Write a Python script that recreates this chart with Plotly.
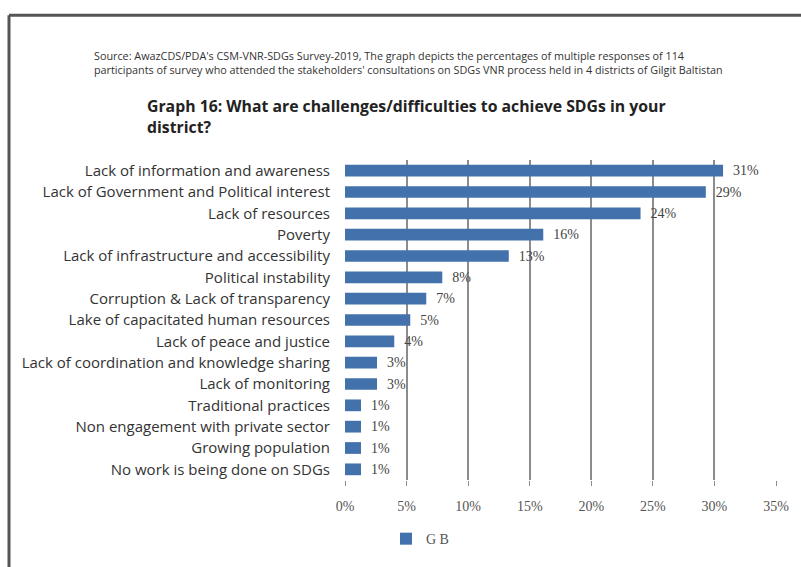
import plotly.graph_objects as go

categories = [
    "Lack of information and awareness",
    "Lack of Government and Political interest",
    "Lack of resources",
    "Poverty",
    "Lack of infrastructure and accessibility",
    "Political instability",
    "Corruption & Lack of transparency",
    "Lake of capacitated human resources",
    "Lack of peace and justice",
    "Lack of coordination and knowledge sharing",
    "Lack of monitoring",
    "Traditional practices",
    "Non engagement with private sector",
    "Growing population",
    "No work is being done on SDGs",
]
values = [30.7, 29.3, 24.0, 16.1, 13.3, 7.9, 6.6, 5.3, 4.0, 2.6, 2.6, 1.3, 1.3, 1.3, 1.3]
value_labels = ["31%", "29%", "24%", "16%", "13%", "8%", "7%", "5%", "4%", "3%", "3%", "1%", "1%", "1%", "1%"]
tick_vals = [0, 5, 10, 15, 20, 25, 30, 35]
tick_text = ["0%", "5%", "10%", "15%", "20%", "25%", "30%", "35%"]
series_name = "G B"

W, H = 801, 567
L, R, T, B = 345, 25, 160, 82
pw, ph = W - L - R, H - T - B


def px_x(x):
    return (x - L) / pw


def px_y(y):
    return (H - B - y) / ph


fig = go.Figure()
fig.add_trace(go.Bar(
    x=values, y=categories, orientation="h", name=series_name,
    marker=dict(color="#4271ab", line=dict(width=0)),
    width=0.55,
    text=value_labels, textposition="outside",
    texttemplate="\u00a0\u00a0%{text}",
    constraintext="none",
    textfont=dict(family="Liberation Serif", size=14, color="#444444"),
    cliponaxis=False,
))

fig.update_layout(
    width=W, height=H,
    margin=dict(l=L, r=R, t=T, b=B),
    paper_bgcolor="white", plot_bgcolor="white",
    title=dict(
        text="Graph 16: What are challenges/difficulties to achieve SDGs in your<br>district?",
        x=147 / W, xref="container", xanchor="left",
        y=1 - 112 / H, yref="container", yanchor="top",
        font=dict(family="Open Sans", size=15.8, color="#222222", weight="bold"),
    ),
    xaxis=dict(
        range=[0, 35], tickvals=tick_vals, ticktext=tick_text,
        showgrid=True, gridcolor="#8c8c8c", gridwidth=1.5,
        zeroline=False, showline=False,
        ticks="outside", ticklen=5, tickcolor="#8c8c8c",
        ticklabelstandoff=8,
        tickfont=dict(family="Liberation Serif", size=14, color="#555555"),
    ),
    yaxis=dict(
        autorange="reversed", showgrid=False, zeroline=False, showline=False,
        ticks="", ticklabelstandoff=14,
        tickfont=dict(family="Open Sans", size=15, color="#333333"),
    ),
    showlegend=True,
    legend=dict(
        orientation="h", x=px_x(386), y=px_y(545), xanchor="left", yanchor="middle",
        font=dict(family="Liberation Serif", size=14, color="#555555"),
        itemwidth=30,
    ),
    annotations=[
        dict(
            text=("Source: AwazCDS/PDA's CSM-VNR-SDGs Survey-2019, The graph depicts the percentages of multiple responses of 114<br>"
                  "participants of survey who attended the stakeholders' consultations on SDGs VNR process held in 4 districts of Gilgit Baltistan"),
            xref="paper", yref="paper", x=px_x(92), y=px_y(44), xanchor="left", yanchor="top",
            align="left", showarrow=False,
            font=dict(family="Open Sans", size=10.8, color="#333333"),
        ),
    ],
    shapes=[
        dict(type="line", xref="paper", yref="paper", x0=px_x(9), x1=px_x(W + 10), y0=px_y(13), y1=px_y(13),
             line=dict(color="#555555", width=3)),
        dict(type="line", xref="paper", yref="paper", x0=px_x(9), x1=px_x(9), y0=px_y(13), y1=px_y(H + 10),
             line=dict(color="#555555", width=3)),
    ],
)

fig.write_html("out.html")
